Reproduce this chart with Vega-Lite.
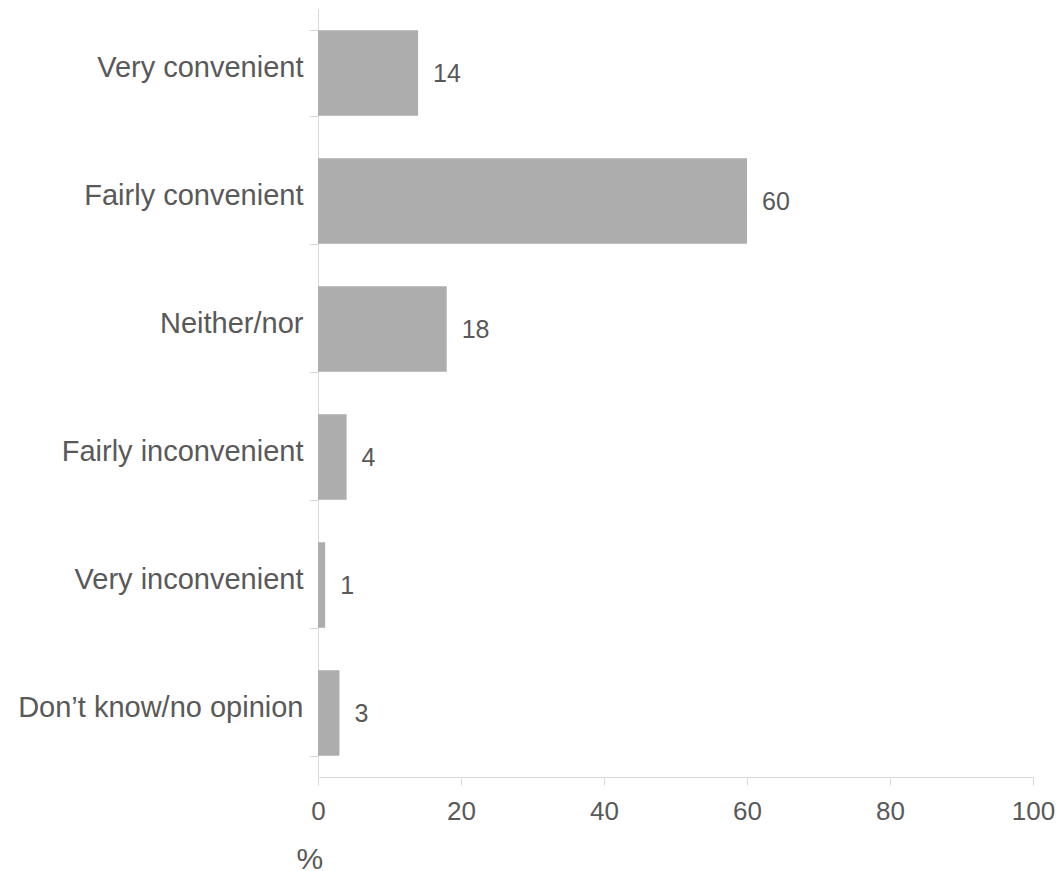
{
  "$schema": "https://vega.github.io/schema/vega-lite/v6.json",
  "autosize": {"type": "none"},
  "padding": {"left": 318, "top": 9, "right": 25, "bottom": 94},
  "width": 715,
  "height": 768,
  "background": "white",
  "config": {
    "view": {"stroke": null},
    "font": "Liberation Sans"
  },
  "data": {
    "values": [
      {"category": "Very convenient", "value": 14},
      {"category": "Fairly convenient", "value": 60},
      {"category": "Neither/nor", "value": 18},
      {"category": "Fairly inconvenient", "value": 4},
      {"category": "Very inconvenient", "value": 1},
      {"category": "Don’t know/no opinion", "value": 3}
    ]
  },
  "encoding": {
    "y": {
      "field": "category",
      "type": "nominal",
      "sort": null,
      "scale": {"paddingInner": 0.332, "paddingOuter": 0.166},
      "axis": {
        "title": null,
        "domainColor": "#d9d9d9",
        "tickColor": "#d9d9d9",
        "tickSize": 9,
        "tickBand": "extent",
        "labelFontSize": 29,
        "labelColor": "#595959",
        "labelPadding": 6,
        "labelBaseline": "alphabetic",
        "labelOffset": 3,
        "labelLimit": 400
      }
    },
    "x": {
      "field": "value",
      "type": "quantitative",
      "scale": {"domain": [0, 100], "nice": false},
      "axis": {
        "title": "%",
        "values": [0, 20, 40, 60, 80, 100],
        "grid": false,
        "domainColor": "#d9d9d9",
        "tickColor": "#d9d9d9",
        "tickSize": 8,
        "labelFontSize": 26,
        "labelColor": "#595959",
        "labelBaseline": "alphabetic",
        "labelPadding": 34,
        "labelFlush": false,
        "titleFontSize": 30,
        "titleFontWeight": "normal",
        "titleColor": "#595959",
        "titleAnchor": "start",
        "titleAlign": "left",
        "titleBaseline": "alphabetic",
        "titleX": -22,
        "titleY": 91
      }
    }
  },
  "layer": [
    {"mark": {"type": "bar", "color": "#adadad"}},
    {
      "mark": {
        "type": "text",
        "align": "left",
        "baseline": "middle",
        "dx": 15,
        "dy": 1,
        "fontSize": 25,
        "color": "#595959"
      },
      "encoding": {"text": {"field": "value", "type": "quantitative"}}
    }
  ]
}
